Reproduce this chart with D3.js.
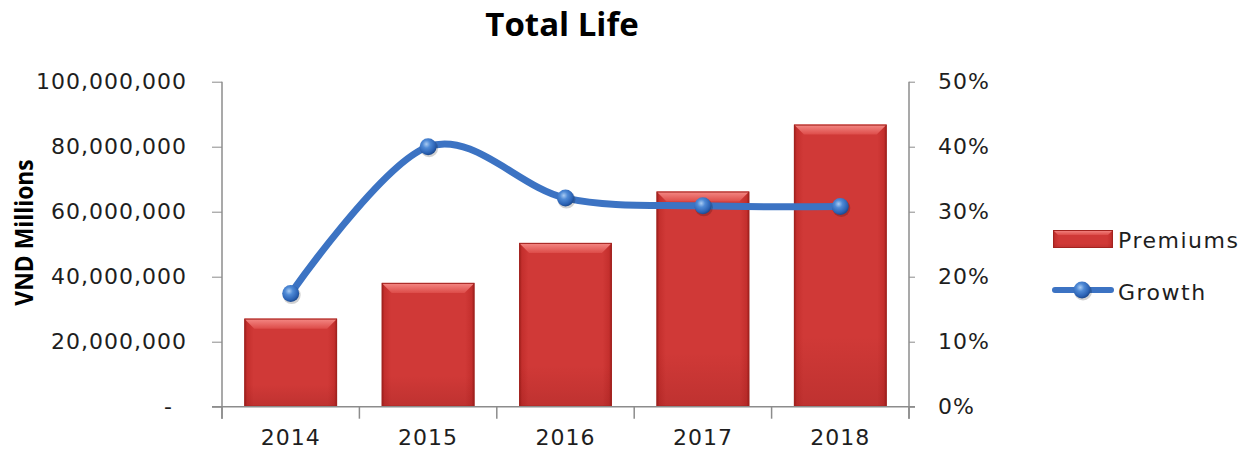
<!DOCTYPE html>
<html>
<head>
<meta charset="utf-8">
<script src="https://cdn.jsdelivr.net/npm/d3@7"></script>
<style>
  html, body { margin: 0; padding: 0; background: #fff; }
  svg { display: block; }
  .tick text { font-family: "DejaVu Sans", Verdana, sans-serif; }
</style>
</head>
<body>
<svg id="chart" width="1250" height="461"></svg>
<script>
// Life insurance premiums (VND millions) and year-on-year growth
const years = ["2014", "2015", "2016", "2017", "2018"];
const premiums = [27100000, 38100000, 50400000, 66200000, 86800000];
const growth = [0.174, 0.400, 0.321, 0.309, 0.308];
const leftTicks = [0, 20000000, 40000000, 60000000, 80000000, 100000000];
const rightTicks = [0, 0.1, 0.2, 0.3, 0.4, 0.5];

const svg = d3.select("#chart");
const plot = { left: 222, right: 909, top: 81.7, bottom: 406.7 };
const axisColor = "#8c8c8c";
const textColor = "#1e1e1e";
const font = '"DejaVu Sans", Verdana, sans-serif';

const x = d3.scaleBand().domain(years)
  .range([plot.left, plot.right])
  .paddingInner(0.325).paddingOuter(0.1625);
const y = d3.scaleLinear().domain([0, 100000000]).range([plot.bottom, plot.top]);
const y2 = d3.scaleLinear().domain([0, 0.5]).range([plot.bottom, plot.top]);

// ---- gradients ----
const defs = svg.append("defs");
const bodyGrad = defs.append("linearGradient").attr("id", "barBody")
  .attr("x1", "0").attr("x2", "1").attr("y1", "0").attr("y2", "0");
[[0, "#9a1d1b"], [0.03, "#c42f2d"], [0.1, "#d03937"], [0.9, "#d03937"], [0.97, "#c42f2d"], [1, "#9a1d1b"]]
  .forEach(([o, c]) => bodyGrad.append("stop").attr("offset", o).attr("stop-color", c));
const topGrad = defs.append("linearGradient").attr("id", "barTop")
  .attr("x1", "0").attr("x2", "0").attr("y1", "0").attr("y2", "1");
[[0, "#f58a86"], [1, "#dd4c49"]]
  .forEach(([o, c]) => topGrad.append("stop").attr("offset", o).attr("stop-color", c));
const bottomGrad = defs.append("linearGradient").attr("id", "barBottom")
  .attr("x1", "0").attr("x2", "0").attr("y1", "0").attr("y2", "1");
[[0, "rgba(120,20,20,0)"], [1, "rgba(120,20,20,0.2)"]]
  .forEach(([o, c]) => bottomGrad.append("stop").attr("offset", o).attr("stop-color", c));
const ballGrad = defs.append("radialGradient").attr("id", "ball")
  .attr("cx", "0.4").attr("cy", "0.35").attr("r", "0.65");
[[0, "#a9cbf2"], [0.35, "#4f8ad6"], [0.8, "#2b62b4"], [1, "#1d4a8e"]]
  .forEach(([o, c]) => ballGrad.append("stop").attr("offset", o).attr("stop-color", c));

// ---- title ----
svg.append("text")
  .attr("x", 562).attr("y", 36)
  .attr("text-anchor", "middle")
  .attr("font-family", '"Open Sans", "Noto Sans", sans-serif')
  .attr("font-weight", "bold")
  .attr("font-size", 33)
  .attr("fill", "#000")
  .text("Total Life");

// ---- y axis title ----
svg.append("text")
  .attr("transform", "translate(33,232.5) rotate(-90) scale(1.04,1.12)")
  .attr("text-anchor", "middle")
  .attr("font-family", '"Open Sans", "Noto Sans", sans-serif')
  .attr("font-weight", "bold")
  .attr("font-size", 22)
  .attr("fill", "#000")
  .text("VND Millions");

// ---- bars ----
function bevel(g, bx, by, bw, bh, b) {
  g.append("rect").attr("x", bx).attr("y", by).attr("width", bw).attr("height", bh)
    .attr("fill", "url(#barBody)");
  g.append("rect").attr("x", bx).attr("y", by + bh * 0.75).attr("width", bw).attr("height", bh * 0.25)
    .attr("fill", "url(#barBottom)");
  const tb = Math.min(b, bh / 2);
  g.append("polygon")
    .attr("points", [[bx, by], [bx + bw, by], [bx + bw - tb, by + tb], [bx + tb, by + tb]].join(" "))
    .attr("fill", "url(#barTop)");
  g.append("rect").attr("x", bx + 0.5).attr("y", by + 0.5).attr("width", bw - 1).attr("height", bh - 1)
    .attr("fill", "none").attr("stroke", "#a3231f").attr("stroke-width", 1);
}

const barG = svg.append("g");
years.forEach((yr, i) => {
  const g = barG.append("g");
  const bx = x(yr), by = y(premiums[i]);
  bevel(g, bx, by, x.bandwidth(), y(0) - by, 10);
});

// ---- axes ----
const leftAxis = d3.axisLeft(y).tickValues(leftTicks)
  .tickFormat(d => d === 0 ? "-" : d3.format(",")(d))
  .tickSize(10).tickPadding(25);
const gl = svg.append("g").attr("transform", `translate(${plot.left},0)`).call(leftAxis);
gl.select(".domain").remove();
gl.selectAll(".tick line").attr("stroke", axisColor);
gl.selectAll(".tick text")
  .attr("font-size", 22).attr("letter-spacing", 1).attr("fill", textColor)
  .attr("x", d => d === 0 ? -49 : -35);

const rightAxis = d3.axisRight(y2).tickValues(rightTicks)
  .tickFormat(d3.format(".0%"))
  .tickSize(6).tickPadding(23);
const gr = svg.append("g").attr("transform", `translate(${plot.right},0)`).call(rightAxis);
gr.select(".domain").remove();
gr.selectAll(".tick line").attr("stroke", axisColor);
gr.selectAll(".tick text")
  .attr("font-size", 22).attr("letter-spacing", 1).attr("fill", textColor);

// axis lines
const axes = svg.append("g").attr("stroke", axisColor).attr("stroke-width", 1.5);
axes.append("line").attr("x1", plot.left).attr("x2", plot.left).attr("y1", plot.top).attr("y2", plot.bottom + 12);
axes.append("line").attr("x1", plot.right).attr("x2", plot.right).attr("y1", plot.top).attr("y2", plot.bottom + 12);
axes.append("line").attr("x1", plot.left - 10).attr("x2", plot.right + 6).attr("y1", plot.bottom).attr("y2", plot.bottom);

// category boundary ticks
const half = x.step() * x.paddingInner() / 2;
const bounds = years.map(d => x(d) - half).concat([x(years[years.length - 1]) + x.bandwidth() + half]);
axes.selectAll("line.bt").data(bounds).join("line").attr("class", "bt")
  .attr("x1", d => d).attr("x2", d => d)
  .attr("y1", plot.bottom).attr("y2", plot.bottom + 12);

// category labels
const bottomAxis = d3.axisBottom(x).tickSize(0).tickPadding(23);
const gb = svg.append("g").attr("transform", `translate(0,${plot.bottom})`).call(bottomAxis);
gb.select(".domain").remove();
gb.selectAll(".tick text")
  .attr("font-size", 22).attr("letter-spacing", 1).attr("fill", textColor);

// ---- growth line ----
const cx = d => x(d) + x.bandwidth() / 2;
const line = d3.line()
  .x((d, i) => cx(years[i]))
  .y(d => y2(d))
  .curve(d3.curveCardinal.tension(0));
svg.append("path")
  .datum(growth)
  .attr("d", line)
  .attr("fill", "none")
  .attr("stroke", "#3c73c3")
  .attr("stroke-width", 7)
  .attr("stroke-linecap", "round");

const markers = svg.append("g");
growth.forEach((g, i) => {
  markers.append("circle")
    .attr("cx", cx(years[i]) + 1).attr("cy", y2(g) + 1.5).attr("r", 9)
    .attr("fill", "rgba(0,0,0,0.18)");
  markers.append("circle")
    .attr("cx", cx(years[i])).attr("cy", y2(g)).attr("r", 8.5)
    .attr("fill", "url(#ball)");
});

// ---- legend ----
const lg = svg.append("g");
bevel(lg, 1053, 230, 60, 18, 5);
lg.append("text").attr("x", 1118).attr("y", 240)
  .attr("dominant-baseline", "central")
  .attr("font-family", font).attr("font-size", 22).attr("letter-spacing", 1.5)
  .attr("fill", textColor).text("Premiums");
lg.append("line").attr("x1", 1055).attr("x2", 1111).attr("y1", 290).attr("y2", 290)
  .attr("stroke", "#3c73c3").attr("stroke-width", 6).attr("stroke-linecap", "round");
lg.append("circle").attr("cx", 1083).attr("cy", 291.5).attr("r", 9).attr("fill", "rgba(0,0,0,0.18)");
lg.append("circle").attr("cx", 1082).attr("cy", 290).attr("r", 8.5).attr("fill", "url(#ball)");
lg.append("text").attr("x", 1118).attr("y", 292)
  .attr("dominant-baseline", "central")
  .attr("font-family", font).attr("font-size", 22).attr("letter-spacing", 1.5)
  .attr("fill", textColor).text("Growth");
</script>
</body>
</html>
